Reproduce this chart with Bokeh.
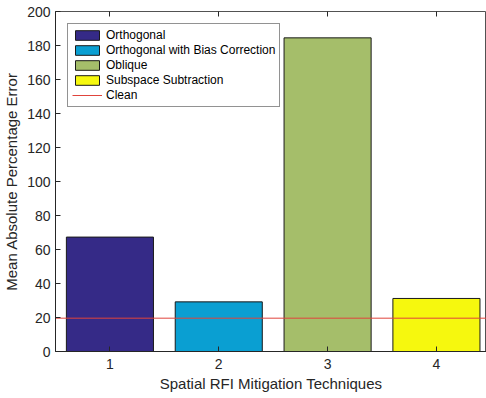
from bokeh.plotting import figure
from bokeh.models import Range1d, LinearAxis, FixedTicker, Legend, LegendItem
from bokeh.embed import file_html
from bokeh.resources import INLINE

techniques = ["Orthogonal", "Orthogonal with Bias Correction", "Oblique", "Subspace Subtraction"]
positions = [1, 2, 3, 4]
mape = [67.3, 29.2, 184.5, 31.2]
clean_level = 19.6
bar_colors = ["#352A87", "#0A9FD2", "#A5BE6A", "#F6F80E"]
y_ticks = [0, 20, 40, 60, 80, 100, 120, 140, 160, 180, 200]

FONT = "Liberation Sans"
AX = "#262626"

p = figure(width=486, height=398, output_backend="svg", toolbar_location=None,
           x_range=Range1d(0.5, 4.46), y_range=Range1d(0, 200),
           min_border_left=55, min_border_right=0, min_border_top=11, min_border_bottom=47)
p.grid.visible = False
p.outline_line_color = AX
p.outline_line_width = 0.8
p.background_fill_color = "white"
p.border_fill_color = "white"

items = []
for x, v, c, name in zip(positions, mape, bar_colors, techniques):
    r = p.vbar(x=[x], top=[v], bottom=0, width=0.8, fill_color=c,
               line_color="#1a1a1a", line_width=1)
    items.append(LegendItem(label=name, renderers=[r]))

xs = [positions[0] - 1, positions[-1] + 1]
lr = p.line(x=xs, y=[clean_level, clean_level], line_color="#E0443C", line_width=1)
items.append(LegendItem(label="Clean", renderers=[lr]))

for ax in (p.xaxis[0], p.yaxis[0]):
    ax.axis_line_color = AX
    ax.major_tick_line_color = AX
    ax.major_tick_in = 5
    ax.major_tick_out = 0
    ax.minor_tick_line_color = None
    ax.major_label_text_font = FONT
    ax.major_label_text_font_size = "14px"
    ax.major_label_text_color = AX
    ax.axis_label_text_font = FONT
    ax.axis_label_text_font_size = "15px"
    ax.axis_label_text_font_style = "normal"
    ax.axis_label_text_color = AX

p.xaxis.ticker = FixedTicker(ticks=positions)
p.yaxis.ticker = FixedTicker(ticks=y_ticks)
p.xaxis.axis_label = "Spatial RFI Mitigation Techniques"
p.yaxis.axis_label = "Mean Absolute Percentage Error"
p.xaxis.major_label_standoff = 7
p.yaxis.major_label_standoff = 5
p.xaxis.axis_label_standoff = 3
p.yaxis.axis_label_standoff = 4

# inner ticks on top (box style)
top = LinearAxis(ticker=FixedTicker(ticks=positions), major_tick_in=5, major_tick_out=0,
                 major_label_overrides={t: "" for t in positions}, major_label_standoff=0,
                 axis_line_color=None, major_tick_line_color=AX, minor_tick_line_color=None)
p.add_layout(top, "above")

legend = Legend(items=items, location="top_left", margin=12, padding=4, spacing=1,
                glyph_width=30, glyph_height=12, label_height=12, label_standoff=4,
                label_text_font=FONT, label_text_font_size="12px", label_text_color="#000000",
                border_line_color=AX, border_line_width=0.8, background_fill_alpha=1)
p.add_layout(legend, "center")

open("out.html", "w").write(file_html(p, INLINE))
